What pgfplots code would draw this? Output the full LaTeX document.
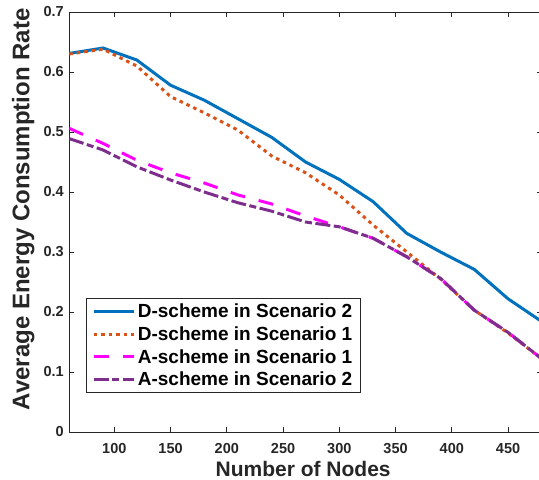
\documentclass[border=0pt]{standalone}
\usepackage{pgfplots}
\pgfplotsset{compat=1.18}
\usepackage{fontspec}
\setmainfont{Liberation Sans}
\definecolor{mblue}{rgb}{0,0.447,0.741}
\definecolor{morange}{rgb}{0.85,0.325,0.098}
\definecolor{mmag}{rgb}{1,0,1}
\definecolor{mpurple}{rgb}{0.494,0.184,0.556}
\definecolor{axgray}{rgb}{0.15,0.15,0.15}
\begin{document}
\begin{tikzpicture}
\begin{axis}[
  at={(0pt,0pt)}, anchor=south west,
  scale only axis, width=472.5pt, height=420pt,
  xmin=60, xmax=480, ymin=0, ymax=0.7,
  xtick={100,150,200,250,300,350,400,450},
  ytick={0,0.1,0.2,0.3,0.4,0.5,0.6,0.7},
  yticklabels={0,0.1,0.2,0.3,0.4,0.5,0.6,0.7},
  tick align=inside, major tick length=5pt,
  axis line style={axgray, line width=0.8pt},
  every tick/.style={axgray, line width=0.8pt},
  /pgf/number format/assume math mode=true,
  tick label style={font=\fontsize{14.5}{16}\selectfont\bfseries, text=axgray},
  yticklabel style={xshift=-2pt},
  xticklabel style={yshift=-8pt},
  xlabel={Number of Nodes},
  ylabel={Average Energy Consumption Rate},
  xlabel style={font=\fontsize{21}{24}\selectfont\bfseries, text=axgray,
    at={(axis description cs:0.495,-0.1048)}, anchor=base},
  ylabel style={font=\fontsize{24}{26}\selectfont\bfseries, text=axgray,
    at={(axis description cs:-0.0974,0.53)}, anchor=center},
  legend style={at={(0.0353,0.0929)}, anchor=south west,
    font=\fontsize{19}{21}\selectfont\bfseries, draw=axgray, line width=0.8pt,
    inner xsep=6pt, inner ysep=3pt, row sep=2.3pt,
    nodes={inner sep=2.5pt}},
  legend cell align=left,
  legend image code/.code={\draw[#1] (0pt,0pt) -- (40pt,0pt);},
]
\addplot[mblue, line width=3pt] coordinates {
(60,0.631) (90,0.640) (120,0.620) (150,0.578) (180,0.553) (210,0.522) (240,0.491)
(270,0.450) (300,0.421) (330,0.384) (360,0.331) (390,0.300) (420,0.271) (450,0.222) (480,0.184)};
\addlegendentry{D-scheme in Scenario 2}
\addplot[morange, line width=3pt, dash pattern=on 3.5pt off 4pt] coordinates {
(60,0.630) (90,0.638) (120,0.610) (150,0.559) (180,0.532) (210,0.503) (240,0.460)
(270,0.432) (300,0.395) (330,0.345) (360,0.300) (390,0.255) (420,0.203) (450,0.165) (480,0.122)};
\addlegendentry{D-scheme in Scenario 1}
\addplot[mmag, line width=3pt, dash pattern=on 15pt off 14pt] coordinates {
(60,0.506) (90,0.481) (120,0.453) (150,0.432) (180,0.415) (210,0.395) (240,0.380)
(270,0.360) (300,0.342) (330,0.323) (360,0.292) (390,0.256) (420,0.203) (450,0.166) (480,0.122)};
\addlegendentry{A-scheme in Scenario 1}
\addplot[mpurple, line width=3pt, dash pattern=on 15pt off 3.5pt on 7pt off 3.5pt] coordinates {
(60,0.489) (90,0.470) (120,0.442) (150,0.420) (180,0.400) (210,0.382) (240,0.368)
(270,0.350) (300,0.342) (330,0.323) (360,0.292) (390,0.256) (420,0.203) (450,0.166) (480,0.122)};
\addlegendentry{A-scheme in Scenario 2}
\end{axis}
\pgfresetboundingbox
\useasboundingbox (-69.3pt,-48pt) rectangle (469.7pt,432pt);
\end{tikzpicture}
\end{document}
